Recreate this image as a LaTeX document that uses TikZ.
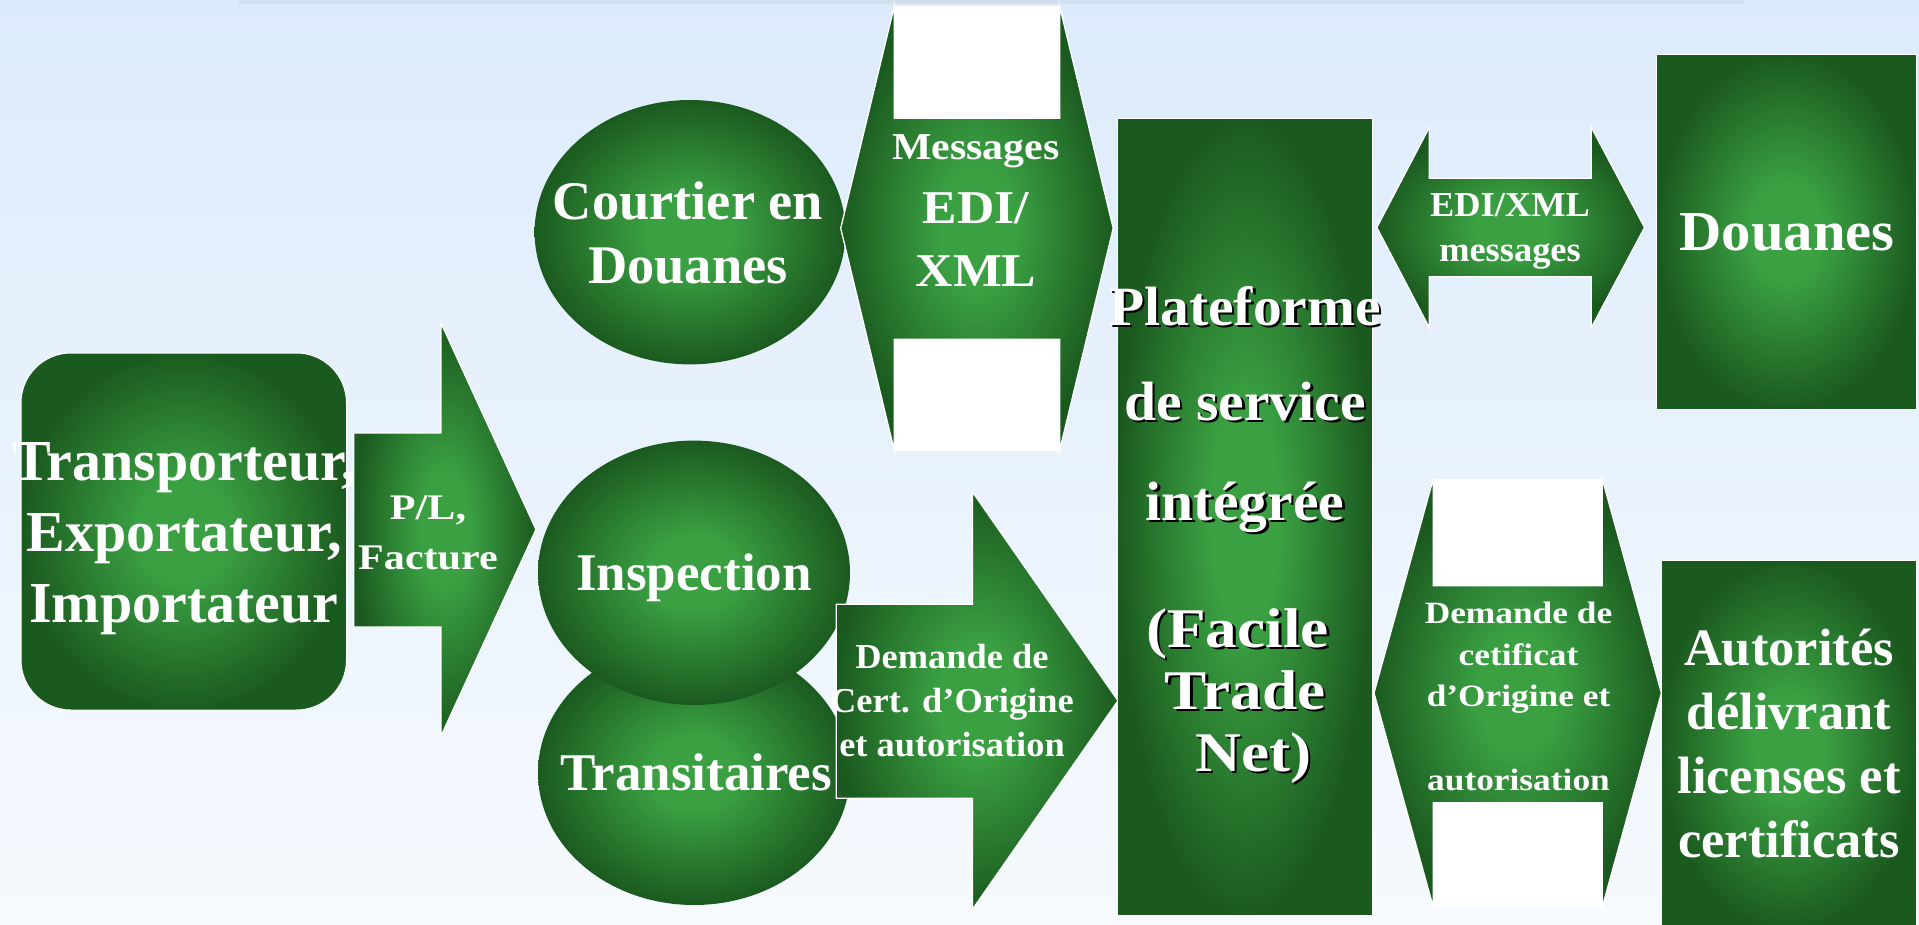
\documentclass[tikz,border=0pt]{standalone}
\usepackage{fontspec}
\setmainfont{Liberation Serif}
\newfontfamily\fN{Liberation Serif}
\newfontfamily\fP[FakeStretch=1.04]{Liberation Serif}
\newfontfamily\fM[FakeStretch=1.1]{Liberation Serif}
\newfontfamily\fQ[FakeStretch=1.13]{Liberation Serif}
\newfontfamily\fS[FakeStretch=1.14]{Liberation Serif}
\newfontfamily\fR[FakeStretch=1.17]{Liberation Serif}
\definecolor{gin}{RGB}{58,160,66}
\definecolor{gout}{RGB}{27,90,31}
\definecolor{bgtop}{RGB}{220,235,251}
\definecolor{bgbot}{RGB}{246,250,254}
\definecolor{barcol}{RGB}{210,223,238}
\pgfdeclareradialshading{gsh}{\pgfpoint{0bp}{0bp}}{color(0bp)=(gin); color(7bp)=(gin); color(25bp)=(gout); color(50bp)=(gout)}
\tikzset{
  gfill/.style={shade, shading=gsh},
  gshape/.style={gfill, draw=white, line width=1.3pt, line join=miter},
  txt/.style={text=white, inner sep=0pt, outer sep=0pt, align=center, anchor=north},
}
\newcommand{\fr}{\rule{0pt}{80pt}}
\newcommand{\gapr}[1]{\rule{#1}{0pt}}
\newcommand{\platetext}{\fr Plateforme\\[33pt]de service\\[38pt]intégrée\\[65.3pt]{\fQ\fontsize{56}{62}\selectfont (Facile\gapr{15pt}}\\{\fQ\fontsize{56}{62}\selectfont Trade}\\{\fQ\fontsize{56}{62}\selectfont\gapr{16.6pt}Net)}}
\begin{document}
\begin{tikzpicture}[x=1pt,y=-1pt]
\useasboundingbox (0,0) rectangle (1919,925);
\clip (0,0) rectangle (1919,925);
\shade[top color=bgtop, bottom color=bgbot] (0,0) rectangle (1919,925);
\fill[barcol] (239,0) rectangle (1744,4);

% Transporteur box
\path[gfill, draw=white, line width=1pt, rounded corners=50pt] (21,353) rectangle (346.5,710);
% P/L arrow
\path[gshape] (353.6,433) -- (441,433) -- (441,323) -- (536,529.5) -- (441,736) -- (441,627) -- (353.6,627) -- cycle;
% Courtier ellipse
\path[gfill] (690,232.2) ellipse [x radius=155.4, y radius=132.2];
% Messages double arrow
\fill[white] (894.3,6) rectangle (1059.6,118.3);
\fill[white] (894.3,339.3) rectangle (1059.6,450.7);
\path[gshape] (840.7,228.3) -- (894.3,6) -- (894.3,118.3) -- (1059.6,118.3) -- (1059.6,6) -- (1113.2,228.3) -- (1059.6,450.7) -- (1059.6,339.3) -- (894.3,339.3) -- (894.3,450.7) -- cycle;
% Transitaires and Inspection
\path[gfill] (694,772.8) ellipse [x radius=156, y radius=132.2];
\path[gfill] (694,572.8) ellipse [x radius=156, y radius=132.2];
% Demande arrow
\path[gshape] (836.3,604.3) -- (972.5,604.3) -- (972.5,492) -- (1118,700.7) -- (972.5,909.3) -- (972.5,798.3) -- (836.3,798.3) -- cycle;
% Plateforme
\path[gshape, line width=1pt] (1117.2,118.3) rectangle (1372.6,915.5);
% EDI/XML double arrow
\path[gshape] (1376.8,227.5) -- (1429.3,127.3) -- (1429.3,178.3) -- (1591.3,178.3) -- (1591.3,127.3) -- (1644.5,227.5) -- (1591.3,327.7) -- (1591.3,276.7) -- (1429.3,276.7) -- (1429.3,327.7) -- cycle;
% Douanes
\path[gshape, line width=1pt] (1656.7,55) rectangle (1916.6,409.3);
% Demande de cetificat double arrow
\fill[white] (1433.2,479) rectangle (1602.3,585.7);
\fill[white] (1433.2,802.7) rectangle (1602.3,907);
\path[gshape] (1374,693) -- (1433.2,479) -- (1433.2,585.7) -- (1602.3,585.7) -- (1602.3,479) -- (1661.4,693) -- (1602.3,907) -- (1602.3,802.7) -- (1433.2,802.7) -- (1433.2,907) -- cycle;
% Autorites
\path[gshape, line width=1pt] (1661.4,560.7) rectangle (1916.6,930);

% Texts
\node[txt, font=\fN\bfseries\fontsize{58}{71}\selectfont] (tei) at (184,400) {\fr Transporteur,\\Exportateur,\\Importateur};
\node[txt, font=\fR\bfseries\fontsize{36}{50.7}\selectfont] (plf) at (428,439) {\fr P/L,\\Facture};
\node[txt, font=\fN\bfseries\fontsize{54.4}{64}\selectfont] (cd) at (688,139.3) {\fr Courtier en\\Douanes};
\node[txt, font=\fM\bfseries\fontsize{47}{63.5}\selectfont] (msg) at (976,80) {\fr{\fontsize{38}{63.5}\selectfont Messages}\\EDI/\\XML};
\node[txt, font=\fN\bfseries\fontsize{53}{60}\selectfont] (insp) at (694,510) {\fr Inspection};
\node[txt, font=\fN\bfseries\fontsize{53}{60}\selectfont] (trans) at (696,710) {\fr Transitaires};
\node[txt, font=\fP\bfseries\fontsize{35}{44.2}\selectfont] (dem) at (952,588.3) {\fr Demande de\\Cert. d’Origine\\et autorisation};
\node[txt, text=black, font=\fP\bfseries\fontsize{55.4}{62}\selectfont] (platsh) at (1247.5,247.5) {\platetext};
\node[txt, font=\fP\bfseries\fontsize{55.4}{62}\selectfont] (plat) at (1245,245) {\platetext};
\node[txt, font=\fP\bfseries\fontsize{35}{45}\selectfont] (edi) at (1510,136.7) {\fr EDI/XML\\messages};
\node[txt, font=\fP\bfseries\fontsize{56.4}{60}\selectfont] (dou) at (1787,170.7) {\fr Douanes};
\node[txt, font=\fS\bfseries\fontsize{31}{41.7}\selectfont] (dcert) at (1518.5,543.3) {\fr Demande de\\cetificat\\d’Origine et\\[41.7pt]autorisation};
\node[txt, font=\fN\bfseries\fontsize{52.5}{64}\selectfont] (aut) at (1789,585) {\fr Autorités\\délivrant\\licenses et\\certificats};
\end{tikzpicture}
\end{document}
